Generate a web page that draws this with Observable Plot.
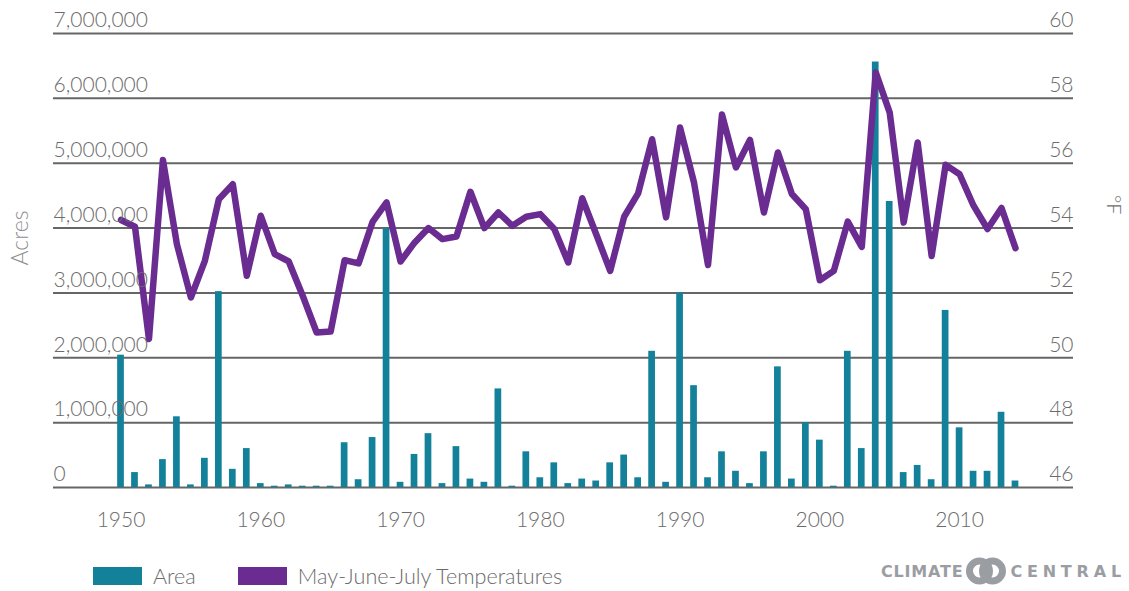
<!DOCTYPE html>
<html>
<head>
<meta charset="utf-8">
<script src="https://cdn.jsdelivr.net/npm/d3@7"></script>
<script src="https://cdn.jsdelivr.net/npm/@observablehq/plot@0.6"></script>
<style>
  html, body { margin: 0; padding: 0; background: #fff; }
  #wrap { position: relative; width: 1129px; height: 591px; overflow: hidden; font-family: Lato, "Open Sans", sans-serif; }
  #chart { position: absolute; left: 0; top: 0; }
  .ytitle { position: absolute; font-family: Lato, sans-serif; font-weight: 300; white-space: nowrap; line-height: 1; }
  .legend { position: absolute; top: 563px; left: 93px; display: flex; align-items: center; font-family: Lato, sans-serif; font-weight: 300; font-size: 21.6px; color: #6b6b6b; }
  .sw { display: inline-block; width: 49px; height: 18px; margin-right: 11px; }
  .logo { position: absolute; left: 881px; top: 556px; display: flex; align-items: center; font-family: "DejaVu Sans", sans-serif; font-weight: 700; font-size: 16px; color: #9a9ea3; }
</style>
</head>
<body>
<div id="wrap">
  <div id="chart"></div>
  <div class="ytitle" style="left:19px; top:238px; transform: translate(-50%,-50%) rotate(-90deg); font-size:23px; color:#8f8f8f;">Acres</div>
  <div class="ytitle" style="left:1106px; top:195px; writing-mode: vertical-rl; font-size:20px; line-height:0.85; color:#6b6b6b;">°F</div>
  <div class="legend">
    <span class="sw" style="background:#13819a"></span><span style="margin-right:42px">Area</span>
    <span class="sw" style="background:#6a2c91"></span><span>May-June-July Temperatures</span>
  </div>
  <div class="logo">
    <span style="letter-spacing:0.8px">CLIMATE</span>
    <svg width="40" height="30" viewBox="0 0 40 30" style="margin:0 4px 0 3px">
      <circle cx="13.5" cy="15" r="10" fill="none" stroke="#9a9ea3" stroke-width="7"/>
      <circle cx="26.5" cy="15" r="10" fill="none" stroke="#9a9ea3" stroke-width="7"/>
    </svg>
    <span style="letter-spacing:4.8px">CENTRAL</span>
  </div>
</div>
<script>
const years = [1950,1951,1952,1953,1954,1955,1956,1957,1958,1959,
  1960,1961,1962,1963,1964,1965,1966,1967,1968,1969,
  1970,1971,1972,1973,1974,1975,1976,1977,1978,1979,
  1980,1981,1982,1983,1984,1985,1986,1987,1988,1989,
  1990,1991,1992,1993,1994,1995,1996,1997,1998,1999,
  2000,2001,2002,2003,2004,2005,2006,2007,2008,2009,
  2010,2011,2012,2013,2014];

const areaAcres = [2040000,230000,40000,430000,1090000,40000,450000,3020000,280000,600000,
  60000,20000,40000,20000,20000,20000,690000,120000,770000,3990000,
  80000,510000,830000,60000,630000,130000,80000,1520000,20000,550000,
  150000,380000,60000,130000,100000,380000,500000,150000,2100000,80000,
  3000000,1570000,150000,550000,250000,60000,550000,1860000,130000,1000000,
  730000,20000,2100000,600000,6560000,4410000,230000,340000,120000,2730000,
  920000,250000,250000,1160000,100000];

const tempF = [54.25,54.04,50.58,56.1,53.5,51.86,52.99,54.89,55.35,52.53,
  54.38,53.2,52.97,51.91,50.78,50.81,53.01,52.91,54.19,54.79,
  52.97,53.55,54.0,53.66,53.74,55.12,54.0,54.48,54.07,54.35,
  54.43,53.97,52.94,54.92,53.81,52.68,54.35,55.07,56.74,54.33,
  57.1,55.4,52.86,57.5,55.87,56.72,54.48,56.33,55.05,54.58,
  52.39,52.68,54.2,53.42,58.8,57.56,54.17,56.64,53.14,55.95,
  55.66,54.69,53.97,54.62,53.38];

const acreTicks = [0,1000000,2000000,3000000,4000000,5000000,6000000,7000000];
const tempTicks = [46,48,50,52,54,56,58,60];
const yearTicks = [1950,1960,1970,1980,1990,2000,2010];

// temperatures share the acres axis: 46°F ↔ 0 acres, 2°F per million acres
const tempBase = 46, acresPerDegree = 500000;

const rows = years.map((yr, i) => ({year: yr, area: areaAcres[i], temp: tempF[i]}));

const chart = Plot.plot({
  width: 1129,
  height: 545,
  marginLeft: 53,
  marginRight: 56,
  marginTop: 33,
  marginBottom: 58,
  style: {fontFamily: "Lato, sans-serif", fontSize: "21px", fontWeight: 300, color: "#6b6b6b", background: "transparent"},
  x: {type: "linear", domain: [1945.17, 2018.15]},
  y: {domain: [0, 7000000]},
  marks: [
    Plot.ruleY(acreTicks, {stroke: "#666", strokeWidth: 2}),
    Plot.rect(rows, {x1: d => d.year - 0.24, x2: d => d.year + 0.24, y1: 0, y2: "area", fill: "#13819a"}),
    Plot.line(rows, {x: "year", y: d => (d.temp - tempBase) * acresPerDegree, stroke: "#6a2c91", strokeWidth: 6.5, strokeLinejoin: "round", strokeLinecap: "round"}),
    Plot.axisY({anchor: "left", ticks: acreTicks, tickSize: 0, tickPadding: 0, textAnchor: "start", dy: -13, tickFormat: d3.format(","), label: null}),
    Plot.axisY({anchor: "right", ticks: tempTicks.map(t => (t - tempBase) * acresPerDegree), tickSize: 0, tickPadding: 0, textAnchor: "end", dy: -13, tickFormat: d => String(d / acresPerDegree + tempBase), label: null}),
    Plot.axisX({ticks: yearTicks, tickSize: 0, tickPadding: 25, tickFormat: d => String(d), label: null})
  ]
});
document.getElementById("chart").appendChild(chart);
</script>
</body>
</html>
